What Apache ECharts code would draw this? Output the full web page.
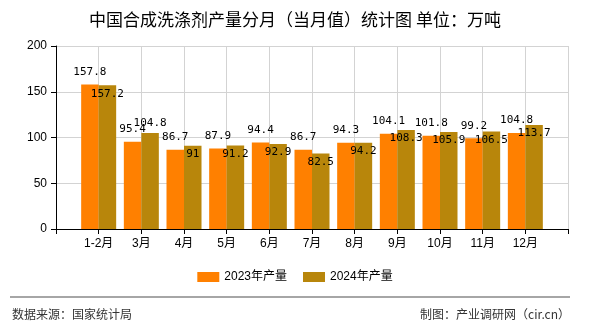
<!DOCTYPE html>
<html>
<head>
<meta charset="utf-8">
<script src="https://cdn.jsdelivr.net/npm/echarts@6/dist/echarts.min.js"></script>
<style>
html,body{margin:0;padding:0;background:#fff;}
#c{width:590px;height:330px;}
</style>
</head>
<body>
<div id="c"></div>
<script>
var categories = ['1-2月','3月','4月','5月','6月','7月','8月','9月','10月','11月','12月'];
var values2023 = [157.8, 95.4, 86.7, 87.9, 94.4, 86.7, 94.3, 104.1, 101.8, 99.2, 104.8];
var values2024 = [157.2, 104.8, 91, 91.2, 92.9, 82.5, 94.2, 108.3, 105.9, 106.5, 113.7];
var seriesNames = ['2023年产量','2024年产量'];
var yTicks = [0, 50, 100, 150, 200];

var font = 'Liberation Sans, "Noto Sans CJK SC", sans-serif';
var monoFont = '"DejaVu Sans Mono", "Noto Sans CJK SC", monospace';

var axisData = [''].concat(categories).concat(['']);
function pad(arr){ return [null].concat(arr).concat([null]); }

var d2024 = pad(values2024).map(function(v, i){
  if (v === null) return null;
  if (i === 2) {
    return {value: v, label: {position: 'top', distance: 4}};
  }
  return v;
});

var chart = echarts.init(document.getElementById('c'), null, {renderer: 'canvas'});
chart.setOption({
  backgroundColor: '#fff',
  animation: false,
  textStyle: {fontFamily: font},
  title: {
    text: '中国合成洗涤剂产量分月（当月值）统计图 单位：万吨',
    left: 'center',
    top: 6,
    textStyle: {fontSize: 17, fontWeight: 'normal', color: '#000', fontFamily: '"Noto Sans CJK SC", sans-serif'}
  },
  legend: {
    bottom: 42,
    left: 'center',
    itemWidth: 22,
    itemHeight: 10,
    itemGap: 16,
    icon: 'rect',
    textStyle: {fontSize: 12, color: '#000', fontFamily: font},
    data: seriesNames
  },
  grid: {left: 56, right: 22, top: 46, bottom: 101, containLabel: false},
  xAxis: {
    type: 'category',
    data: axisData,
    boundaryGap: false,
    axisLine: {show: true, lineStyle: {color: '#000'}},
    axisTick: {show: true, length: 5, lineStyle: {color: '#000'}},
    axisLabel: {color: '#000', fontSize: 12, margin: 9, interval: 0, fontFamily: font},
    splitLine: {show: true, lineStyle: {color: '#d3d3d3'}}
  },
  yAxis: {
    type: 'value',
    min: yTicks[0],
    max: yTicks[yTicks.length - 1],
    interval: 50,
    axisLine: {show: true, lineStyle: {color: '#000'}},
    axisTick: {show: true, length: 5, lineStyle: {color: '#000'}},
    axisLabel: {color: '#000', fontSize: 12, margin: 9, fontFamily: font},
    splitLine: {show: true, lineStyle: {color: '#d3d3d3'}}
  },
  series: [
    {
      name: seriesNames[0],
      type: 'bar',
      data: pad(values2023),
      barWidth: 17.5,
      barGap: '0%',
      itemStyle: {color: '#FF8000'},
      label: {show: true, position: 'top', distance: 7, color: '#000', fontSize: 11, fontFamily: monoFont}
    },
    {
      name: seriesNames[1],
      type: 'bar',
      data: d2024,
      barWidth: 17.5,
      barGap: '0%',
      itemStyle: {color: '#B8860B'},
      label: {show: true, position: 'insideTop', distance: 3, color: '#000', fontSize: 11, fontFamily: monoFont}
    }
  ],
  graphic: [
    {type: 'line', shape: {x1: 10, y1: 297, x2: 570, y2: 297}, style: {stroke: '#888', lineWidth: 1.5}},
    {type: 'text', left: 12, top: 308, style: {text: '数据来源：国家统计局', fill: '#333', font: '12px "Noto Sans CJK SC", sans-serif'}},
    {type: 'text', right: 20, top: 308, style: {text: '制图：产业调研网（cir.cn）', fill: '#333', font: '12px "Noto Sans CJK SC", sans-serif'}}
  ]
});
</script>
</body>
</html>
